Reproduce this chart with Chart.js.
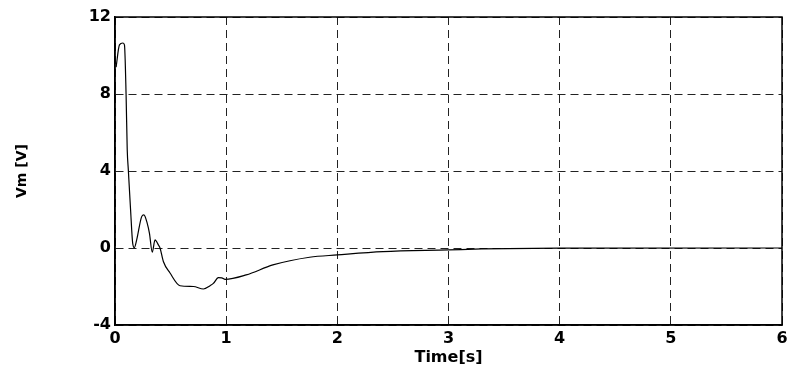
<!DOCTYPE html>
<html>
<head>
<meta charset="utf-8">
<script src="https://cdn.jsdelivr.net/npm/chart.js@4/dist/chart.umd.min.js"></script>
<style>
  html, body { margin: 0; padding: 0; background: #fff; }
  #wrap { width: 792px; height: 367px; }
</style>
</head>
<body>
<div id="wrap"><canvas id="vmChart" width="792" height="367"></canvas></div>
<script>
// Vm response
const timeS = [0.01, 0.04, 0.07, 0.085, 0.1, 0.11, 0.12, 0.14, 0.159, 0.174, 0.195, 0.24, 0.26, 0.29, 0.31,
  0.335, 0.36, 0.39, 0.405, 0.435, 0.495, 0.585, 0.705, 0.795, 0.855, 0.885, 0.93, 0.96, 0.99,
  1.18, 1.42, 1.75, 2.0, 2.41, 3.0, 3.3, 4.0, 6.0];
const vm = [9.4, 10.55, 10.65, 10.55, 7.9, 5.1, 4.05, 2.0, 0.25, 0.02, 0.42, 1.63, 1.72, 1.28, 0.76,
  -0.22, 0.42, 0.16, 0.0, -0.7, -1.3, -1.96, -2.0, -2.13, -1.96, -1.84, -1.54, -1.55, -1.63,
  -1.4, -0.88, -0.48, -0.36, -0.19, -0.1, -0.05, -0.01, 0];
const xTicks = [0, 1, 2, 3, 4, 5, 6];
const yTicks = [-4, 0, 4, 8, 12];

const tickFont = { family: "DejaVu Sans", weight: "bold", size: 16 };

// box around the plot area (MATLAB style)
const boxPlugin = {
  id: "box",
  afterDraw(chart) {
    const { ctx, chartArea: a } = chart;
    ctx.save();
    ctx.strokeStyle = "#000";
    ctx.lineWidth = 1.5;
    ctx.strokeRect(a.left, a.top, a.right - a.left, a.bottom - a.top);
    ctx.restore();
  },
};

new Chart(document.getElementById("vmChart"), {
  type: "line",
  data: {
    datasets: [
      {
        data: timeS.map((t, i) => ({ x: t, y: vm[i] })),
        borderColor: "#000",
        borderWidth: 1.2,
        pointRadius: 0,
        cubicInterpolationMode: "monotone",
        fill: false,
      },
    ],
  },
  options: {
    responsive: false,
    animation: false,
    layout: { padding: { left: 0, top: 17, right: 10, bottom: 0 } },
    plugins: { legend: { display: false }, tooltip: { enabled: false } },
    scales: {
      x: {
        type: "linear",
        min: 0,
        max: 6,
        afterBuildTicks: (s) => { s.ticks = xTicks.map((v) => ({ value: v })); },
        afterFit: (s) => { s.height = 42; },
        grid: { color: "#222", lineWidth: 1, drawTicks: false },
        border: { display: true, color: "#000", width: 1.5, dash: [8, 5] },
        ticks: { color: "#000", font: tickFont, padding: 4, maxRotation: 0 },
        title: {
          display: true,
          text: "Time[s]",
          color: "#000",
          font: tickFont,
          padding: { top: -4, bottom: 0 },
        },
      },
      y: {
        min: -4,
        max: 12,
        afterBuildTicks: (s) => { s.ticks = yTicks.map((v) => ({ value: v })); },
        afterFit: (s) => { s.width = 115; },
        grid: { color: "#222", lineWidth: 1, drawTicks: false },
        border: { display: true, color: "#000", width: 1.5, dash: [8, 5] },
        ticks: { color: "#000", font: tickFont, padding: 4 },
        title: {
          display: true,
          text: "Vm [V]",
          color: "#000",
          font: { family: "DejaVu Sans", weight: "bold", size: 14 },
          padding: { top: 14, bottom: 0 },
        },
      },
    },
  },
  plugins: [boxPlugin],
});
</script>
</body>
</html>
